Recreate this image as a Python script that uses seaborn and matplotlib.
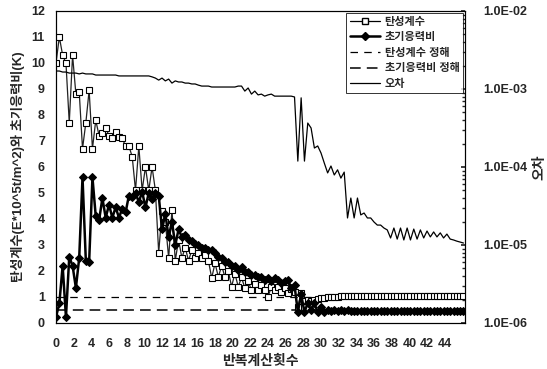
import numpy as np
import pandas as pd
import matplotlib
matplotlib.use("Agg")
import matplotlib.pyplot as plt
import matplotlib.ticker as mticker
from matplotlib.lines import Line2D
import seaborn as sns

# ---------------- data ----------------
step = 0.375
elastic = [10.0, 11.0, 10.3, 10.0, 7.7, 10.3, 8.8, 8.9, 6.7, 7.7,
           8.95, 6.7, 7.8, 7.2, 7.3, 7.5, 7.2, 7.1, 7.35, 7.15,
           7.1, 6.8, 6.8, 6.4, 5.1, 6.8, 5.1, 6.0, 5.1, 6.0,
           5.1, 2.7, 4.3, 3.9, 2.5, 4.35, 2.4, 3.2, 2.5, 2.9,
           2.4, 2.8, 2.5, 2.7, 2.5, 2.6, 2.4, 1.73, 2.3, 1.77,
           2.2, 1.77, 2.0, 1.4, 1.9, 1.4, 1.75, 1.35, 1.6, 1.27,
           1.5, 1.27, 1.45, 1.27, 1.0, 1.4, 1.25, 1.4, 1.2, 1.35,
           1.15, 1.3, 1.2, 0.6, 1.15, 0.85, 0.9, 0.85, 0.9, 0.92,
           0.95, 0.97, 0.99, 1.0, 1.0, 1.01, 1.02, 1.02, 1.03, 1.03,
           1.03, 1.04, 1.04, 1.04, 1.04, 1.04, 1.04, 1.04, 1.04, 1.04,
           1.04, 1.04, 1.04, 1.04, 1.04, 1.04, 1.04, 1.04, 1.04, 1.04,
           1.04, 1.04, 1.04, 1.04, 1.04, 1.04, 1.04, 1.04, 1.04, 1.04,
           1.04, 1.04, 1.04, 1.04]
stress = [0.23, 0.75, 2.2, 0.23, 2.55, 2.2, 1.35, 2.5, 5.6, 2.4,
          2.35, 5.6, 4.1, 3.95, 4.8, 4.05, 4.55, 4.05, 4.45, 4.05,
          4.4, 4.25, 4.9, 4.85, 5.0, 4.65, 5.05, 4.45, 5.0, 4.75,
          5.0, 4.9, 3.6, 4.2, 3.3, 3.9, 3.0, 3.6, 3.3, 3.4,
          3.2, 3.15, 3.05, 3.0, 2.9, 2.9, 2.8, 2.8, 2.7, 2.55,
          2.5, 2.35, 2.35, 2.2, 2.2, 2.05, 2.15, 1.95, 1.95, 1.85,
          1.85, 1.75, 1.78, 1.65, 1.72, 1.6, 1.72, 1.65, 1.55, 1.62,
          1.65, 1.35, 1.45, 0.42, 1.1, 0.42, 0.77, 0.5, 0.75, 0.42,
          0.6, 0.42, 0.5, 0.45, 0.5, 0.45, 0.49, 0.45, 0.49, 0.45,
          0.48, 0.45, 0.48, 0.45, 0.48, 0.45, 0.48, 0.45, 0.48, 0.45,
          0.48, 0.45, 0.48, 0.45, 0.48, 0.45, 0.48, 0.45, 0.48, 0.45,
          0.48, 0.45, 0.48, 0.45, 0.48, 0.45, 0.48, 0.45, 0.48, 0.45,
          0.48, 0.45, 0.48, 0.46]
error = [1.70e-3, 1.70e-3, 1.65e-3, 1.65e-3, 1.60e-3, 1.60e-3, 1.60e-3, 1.56e-3, 1.60e-3, 1.56e-3,
         1.56e-3, 1.56e-3, 1.51e-3, 1.51e-3, 1.51e-3, 1.51e-3, 1.51e-3, 1.51e-3, 1.51e-3, 1.47e-3,
         1.47e-3, 1.47e-3, 1.47e-3, 1.47e-3, 1.47e-3, 1.47e-3, 1.47e-3, 1.47e-3, 1.47e-3, 1.43e-3,
         1.38e-3, 1.30e-3, 1.38e-3, 1.27e-3, 1.34e-3, 1.19e-3, 1.27e-3, 1.23e-3, 1.23e-3, 1.19e-3,
         1.19e-3, 1.16e-3, 1.16e-3, 1.12e-3, 1.09e-3, 1.09e-3, 1.09e-3, 1.06e-3, 1.06e-3, 1.06e-3,
         1.06e-3, 1.06e-3, 1.06e-3, 1.06e-3, 1.06e-3, 1.09e-3, 1.09e-3, 9.4e-4, 1.03e-3, 8.6e-4,
         9.4e-4, 8.4e-4, 8.6e-4, 8.1e-4, 8.4e-4, 8.6e-4, 8.1e-4, 8.1e-4, 8.1e-4, 8.1e-4,
         8.1e-4, 8.1e-4, 7.9e-4, 1.19e-4, 7.7e-4, 1.19e-4, 3.66e-4, 3.16e-4, 1.75e-4, 1.86e-4,
         1.51e-4, 1.12e-4, 8.4e-5, 1.03e-4, 7.9e-5, 9.2e-5, 7.2e-5, 8.6e-5, 2.22e-5, 4.0e-5,
         2.22e-5, 4.0e-5, 2.43e-5, 2.57e-5, 2.22e-5, 2.22e-5, 1.97e-5, 1.80e-5, 1.80e-5, 1.65e-5,
         1.56e-5, 1.23e-5, 1.65e-5, 1.19e-5, 1.65e-5, 1.16e-5, 1.65e-5, 1.16e-5, 1.60e-5, 1.19e-5,
         1.56e-5, 1.23e-5, 1.51e-5, 1.27e-5, 1.47e-5, 1.27e-5, 1.43e-5, 1.23e-5, 1.38e-5, 1.19e-5,
         1.16e-5, 1.12e-5, 1.09e-5, 1.06e-5]
exact_elastic = 1.0
exact_stress = 0.5
x_ticks = list(range(0, 46, 2))
y_ticks = list(range(0, 13))
err_ticks = [1e-6, 1e-5, 1e-4, 1e-3, 1e-2]
err_tick_labels = ["1.0E-06", "1.0E-05", "1.0E-04", "1.0E-03", "1.0E-02"]

n = len(elastic)
iters = np.arange(n) * step
df = pd.DataFrame({"iter": iters, "elastic": elastic, "stress": stress, "error": error})

# ---------------- style ----------------
sns.set_theme(style="white")
plt.rcParams["font.family"] = ["Liberation Sans", "Noto Sans CJK KR", "DejaVu Sans"]
plt.rcParams["font.weight"] = "bold"

fig = plt.figure(figsize=(5.47, 3.69), dpi=100)
ax = fig.add_axes([0.1024, 0.1247, 0.7477, 0.8455])
ax2 = ax.twinx()

# reference dashed lines
ax.plot([0, 46.3], [exact_elastic, exact_elastic], color="black", lw=0.9,
        dashes=(6, 5), zorder=2)
ax.plot([0, 46.3], [exact_stress, exact_stress], color="black", lw=1.1,
        dashes=(7, 4), zorder=2)

sns.lineplot(data=df, x="iter", y="elastic", ax=ax, color="#222222", lw=0.9,
             marker="s", markersize=5, markerfacecolor="white",
             markeredgecolor="black", markeredgewidth=0.8, zorder=3, legend=False)
sns.lineplot(data=df, x="iter", y="stress", ax=ax, color="black", lw=1.8,
             marker="D", markersize=4.5, markerfacecolor="black",
             markeredgecolor="black", zorder=4, legend=False)
sns.lineplot(data=df, x="iter", y="error", ax=ax2, color="black", lw=0.9,
             zorder=3, legend=False)

# axes
ax.set_xlim(0, 46.3)
ax.set_ylim(0, 12)
ax.set_xticks(x_ticks)
ax.set_xticklabels([str(t) for t in x_ticks], fontsize=9, fontweight="bold")
ax.set_yticks(y_ticks)
ax.set_yticklabels([str(t) for t in y_ticks], fontsize=9, fontweight="bold")
ax.tick_params(axis="y", length=0, pad=8)
ax.tick_params(axis="x", length=0, pad=11)
ax.set_xlabel("반복계산횟수", fontsize=10, fontweight="bold", labelpad=3)
ax.set_ylabel("탄성계수(E*10^5t/m^2)와 초기응력비(K)", fontsize=9.5,
              fontweight="bold", labelpad=4)

ax2.set_yscale("log")
ax2.set_ylim(1e-6, 1e-2)
ax2.set_yticks(err_ticks)
ax2.set_yticklabels(err_tick_labels, fontsize=9, fontweight="bold")
ax2.yaxis.set_minor_locator(mticker.LogLocator(base=10, subs=np.arange(2, 10)))
ax2.yaxis.set_minor_formatter(mticker.NullFormatter())
ax2.tick_params(axis="y", which="major", length=3, direction="in", pad=13)
ax2.tick_params(axis="y", which="minor", length=2, direction="in")
ax2.set_ylabel("오차", fontsize=10, fontweight="bold", labelpad=4)
ax2.set_xlim(0, 46.3)

for a in (ax, ax2):
    for s in a.spines.values():
        s.set_color("black")
        s.set_linewidth(0.8)

handles = [
    Line2D([], [], color="black", lw=0.9, marker="s", markersize=4.5,
           markerfacecolor="white", markeredgecolor="black"),
    Line2D([], [], color="black", lw=1.8, marker="D", markersize=4,
           markerfacecolor="black"),
    Line2D([], [], color="black", lw=0.9, dashes=(6, 5)),
    Line2D([], [], color="black", lw=1.1, dashes=(7, 4)),
    Line2D([], [], color="black", lw=0.9),
]
labels = ["탄성계수", "초기응력비", "탄성계수 정해", "초기응력비 정해", "오차"]
leg = ax2.legend(handles, labels, loc="upper right", fontsize=8,
                 frameon=True, fancybox=False, edgecolor="black",
                 borderpad=0.35, labelspacing=0.5, handlelength=2.7,
                 handletextpad=0.4, borderaxespad=0.15)
leg.get_frame().set_linewidth(0.7)
for t in leg.get_texts():
    t.set_fontweight("bold")

fig.savefig("out.png", dpi=100)
